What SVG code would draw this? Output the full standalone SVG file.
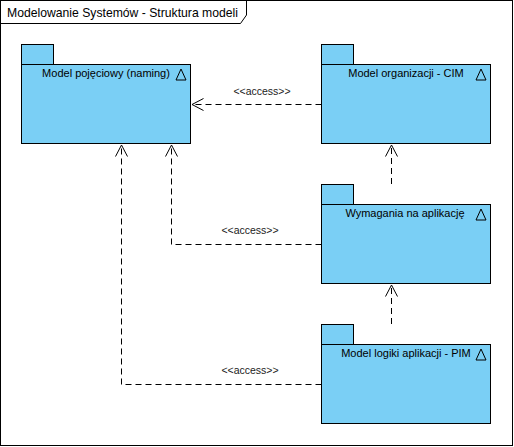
<svg xmlns="http://www.w3.org/2000/svg" width="514" height="447" viewBox="0 0 514 447">
<style>
.frame{fill:#fff;stroke:#000;stroke-width:1}
.pkg{fill:#7acff5;stroke:#000;stroke-width:1}
.tri{fill:none;stroke:#000;stroke-width:1}
.name{font-family:"Liberation Sans",Arial,sans-serif;font-size:11px;fill:#000;text-anchor:middle}
.title{font-family:"Liberation Sans",Arial,sans-serif;font-size:12.2px;fill:#000}
.lbl{font-family:"Liberation Sans",Arial,sans-serif;font-size:10.5px;fill:#222;text-anchor:middle}
.dep{fill:none;stroke:#000;stroke-width:1;stroke-dasharray:6,4}
.head{fill:none;stroke:#000;stroke-width:1}
</style>
<rect class="frame" x="0.5" y="0.5" width="512" height="445"/>
<path d="M0.5,23.5 H240.5 L246.5,15 V0.5" fill="none" stroke="#000" stroke-width="1"/>
<text class="title" x="7" y="17">Modelowanie Systemów - Struktura modeli</text>

<g id="connectors">
  <g id="c1">
    <path class="dep" d="M321.5,104.5 H193"/>
    <path class="head" d="M203.5,98.5 L192,104.5 L203.5,110.5"/>
    <text class="lbl" x="262" y="95">&lt;&lt;access&gt;&gt;</text>
  </g>
  <g id="c2">
    <path class="dep" d="M391.5,184 V146"/>
    <path class="head" d="M385.5,156.5 L391.5,145 L397.5,156.5"/>
  </g>
  <g id="c3">
    <path class="dep" d="M391.5,324 V286"/>
    <path class="head" d="M385.5,296.5 L391.5,285 L397.5,296.5"/>
  </g>
  <g id="c4">
    <path class="dep" d="M321.5,244.5 H171.5 V146"/>
    <path class="head" d="M165.5,156.5 L171.5,145 L177.5,156.5"/>
    <text class="lbl" x="250" y="234">&lt;&lt;access&gt;&gt;</text>
  </g>
  <g id="c5">
    <path class="dep" d="M321.5,384.5 H121.5 V146"/>
    <path class="head" d="M115.5,156.5 L121.5,145 L127.5,156.5"/>
    <text class="lbl" x="250" y="374">&lt;&lt;access&gt;&gt;</text>
  </g>
</g>

<g id="pkg-pojeciowy">
  <rect class="pkg" x="21.5" y="44.5" width="32" height="20"/>
  <rect class="pkg" x="21.5" y="64.5" width="169" height="79"/>
  <text class="name" x="106" y="77">Model pojęciowy (naming)</text>
  <path class="tri" d="M181,69 L176,80 H186 Z"/>
</g>

<g id="pkg-cim">
  <rect class="pkg" x="321.5" y="44.5" width="32" height="20"/>
  <rect class="pkg" x="321.5" y="64.5" width="169" height="79"/>
  <text class="name" x="406" y="77">Model organizacji - CIM</text>
  <path class="tri" d="M481,69 L476,80 H486 Z"/>
</g>

<g id="pkg-wymagania">
  <rect class="pkg" x="321.5" y="184.5" width="32" height="20"/>
  <rect class="pkg" x="321.5" y="204.5" width="169" height="79"/>
  <text class="name" x="405" y="217">Wymagania na aplikację</text>
  <path class="tri" d="M481,209 L476,220 H486 Z"/>
</g>

<g id="pkg-pim">
  <rect class="pkg" x="321.5" y="324.5" width="32" height="20"/>
  <rect class="pkg" x="321.5" y="344.5" width="169" height="79"/>
  <text class="name" x="406" y="357">Model logiki aplikacji - PIM</text>
  <path class="tri" d="M481,349 L476,360 H486 Z"/>
</g>
</svg>
